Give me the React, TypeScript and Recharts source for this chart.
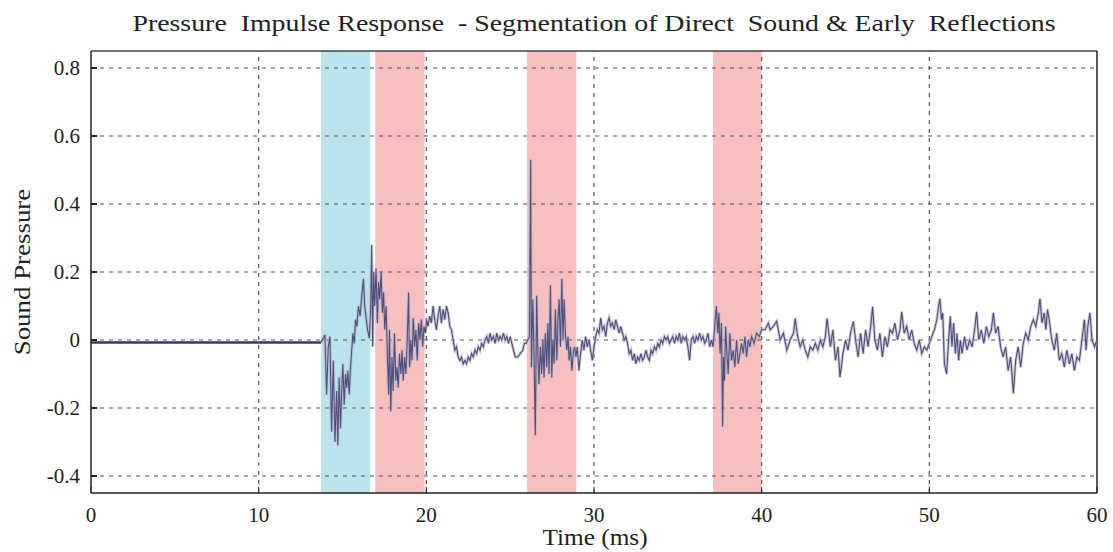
import React from "react";
import {
  LineChart,
  Line,
  XAxis,
  YAxis,
  ReferenceArea,
  ReferenceLine,
} from "recharts";

// ---- data ----
const xTicks = [0, 10, 20, 30, 40, 50, 60];
const yTicks = [-0.4, -0.2, 0, 0.2, 0.4, 0.6, 0.8];

// segmentation bands (ms)
const directSound = [13.72, 16.65];
const earlyReflections = [
  [16.95, 19.9],
  [26.0, 28.95],
  [37.1, 40.0],
];

// pre-arrival (silent) part
const silentTimes = [0, 13.72];
const silentValues = [-0.007, -0.007];

// impulse response samples
const timeMs = [
  13.72, 13.8, 13.95, 14.05, 14.15, 14.25, 14.35, 14.45, 14.55, 14.65, 14.72, 14.8, 14.88, 14.95,
  15.02, 15.1, 15.18, 15.25, 15.32, 15.4, 15.48, 15.55, 15.62, 15.7, 15.78, 15.86, 15.95, 16.05,
  16.15, 16.25, 16.32, 16.42, 16.5, 16.6, 16.68, 16.74, 16.8, 16.86, 16.92, 17.0, 17.08, 17.15,
  17.22, 17.3, 17.38, 17.45, 17.52, 17.6, 17.68, 17.75, 17.8, 17.88, 17.95, 18.02, 18.1, 18.18,
  18.25, 18.32, 18.4, 18.48, 18.55, 18.62, 18.7, 18.78, 18.86, 18.94, 19.0, 19.08, 19.15, 19.22,
  19.3, 19.38, 19.46, 19.54, 19.62, 19.7, 19.78, 19.86, 19.94, 20.02, 20.1, 20.2, 20.3, 20.4,
  20.5, 20.6, 20.7, 20.8, 20.9, 21.0, 21.1, 21.2, 21.3, 21.4, 21.5, 21.6, 21.7, 21.8, 21.9, 22.0,
  22.1, 22.2, 22.3, 22.4, 22.5, 22.6, 22.7, 22.8, 22.9, 23.0, 23.1, 23.2, 23.3, 23.4, 23.5, 23.6,
  23.7, 23.8, 23.9, 24.0, 24.1, 24.2, 24.3, 24.4, 24.5, 24.6, 24.7, 24.8, 24.9, 25.0, 25.1, 25.2,
  25.3, 25.45, 25.6, 25.75, 25.85, 25.95, 26.05, 26.15, 26.22, 26.27, 26.35, 26.42, 26.5, 26.58,
  26.65, 26.72, 26.8, 26.88, 26.95, 27.02, 27.1, 27.18, 27.25, 27.32, 27.4, 27.48, 27.55, 27.62,
  27.7, 27.78, 27.85, 27.92, 28.0, 28.08, 28.15, 28.22, 28.3, 28.38, 28.45, 28.52, 28.6, 28.68,
  28.76, 28.84, 28.92, 29.0, 29.1, 29.2, 29.3, 29.4, 29.5, 29.6, 29.7, 29.8, 29.9, 30.0, 30.1,
  30.2, 30.3, 30.4, 30.5, 30.6, 30.7, 30.8, 30.9, 31.0, 31.1, 31.2, 31.3, 31.4, 31.5, 31.6, 31.7,
  31.8, 31.9, 32.0, 32.1, 32.2, 32.3, 32.4, 32.5, 32.6, 32.7, 32.8, 32.9, 33.0, 33.1, 33.2, 33.3,
  33.4, 33.5, 33.6, 33.7, 33.8, 33.9, 34.0, 34.1, 34.2, 34.3, 34.4, 34.5, 34.6, 34.7, 34.8, 34.9,
  35.0, 35.1, 35.2, 35.3, 35.4, 35.5, 35.6, 35.7, 35.8, 35.9, 36.0, 36.1, 36.2, 36.3, 36.4, 36.5,
  36.6, 36.7, 36.8, 36.9, 37.0, 37.1, 37.2, 37.3, 37.38, 37.45, 37.52, 37.6, 37.67, 37.72, 37.78,
  37.85, 37.92, 38.0, 38.1, 38.2, 38.3, 38.4, 38.5, 38.6, 38.7, 38.8, 38.9, 39.0, 39.1, 39.2, 39.3,
  39.4, 39.55, 39.7, 39.85, 40.0, 40.2, 40.4, 40.5, 40.7, 40.9, 41.1, 41.3, 41.5, 41.7, 41.9, 42.0,
  42.15, 42.3, 42.45, 42.6, 42.75, 42.9, 43.05, 43.2, 43.35, 43.5, 43.65, 43.8, 43.9, 44.1, 44.25,
  44.4, 44.55, 44.67, 44.85, 45.0, 45.15, 45.3, 45.47, 45.6, 45.75, 45.9, 46.05, 46.2, 46.35, 46.5,
  46.62, 46.75, 46.9, 47.05, 47.2, 47.35, 47.5, 47.65, 47.8, 47.95, 48.1, 48.25, 48.35, 48.5, 48.65,
  48.8, 48.95, 49.1, 49.25, 49.4, 49.55, 49.7, 49.85, 50.0, 50.15, 50.3, 50.45, 50.55, 50.63, 50.72,
  50.8, 50.9, 51.03, 51.15, 51.25, 51.35, 51.45, 51.55, 51.65, 51.75, 51.85, 51.95, 52.1, 52.25,
  52.4, 52.55, 52.7, 52.82, 52.95, 53.1, 53.25, 53.4, 53.55, 53.7, 53.82, 53.95, 54.1, 54.25, 54.4,
  54.55, 54.7, 54.85, 55.01, 55.15, 55.3, 55.45, 55.6, 55.75, 55.9, 56.05, 56.2, 56.35, 56.5, 56.6,
  56.72, 56.85, 56.95, 57.05, 57.15, 57.3, 57.45, 57.6, 57.75, 57.9, 58.05, 58.2, 58.35, 58.5,
  58.65, 58.8, 58.95, 59.1, 59.25, 59.35, 59.45, 59.58, 59.7, 59.85, 60.0,
];

const pressure = [
  -0.007, 0.0, 0.015, -0.16, -0.02, 0.01, -0.27, -0.06, -0.3, -0.15, -0.31, -0.11, -0.26, -0.15,
  -0.07, -0.19, -0.1, -0.14, -0.09, -0.16, -0.08, -0.03, 0.02, -0.01, 0.06, 0.04, 0.1, 0.07,
  0.13, 0.18, 0.1, 0.06, 0.03, 0.005, 0.09, 0.28, -0.02, 0.2, 0.1, 0.21, 0.05, 0.17,
  0.12, 0.2, 0.08, 0.14, 0.03, 0.1, -0.05, -0.16, 0.03, -0.21, -0.05, -0.15, 0.02, -0.12,
  -0.08, -0.14, -0.04, -0.1, -0.03, -0.12, -0.05, -0.1, 0.0, 0.14, -0.08, 0.0, -0.06, 0.065,
  -0.02, 0.03, -0.06, 0.05, 0.0, 0.06, -0.02, 0.04, 0.02, 0.06, 0.04, 0.07, 0.05, 0.1,
  0.06, 0.03, 0.07, 0.1, 0.05, 0.09, 0.06, 0.1, 0.08, 0.04, 0.03, 0.0, -0.03, -0.02, -0.05, -0.06,
  -0.05, -0.07, -0.06, -0.07, -0.05, -0.06, -0.04, -0.05, -0.03, -0.04, -0.02, -0.03, -0.01, -0.02, 0.0, 0.01,
  -0.01, 0.02, 0.0, 0.01, -0.01, 0.02, 0.0, 0.01, 0.0, 0.02, 0.0, 0.01, -0.01, 0.01, -0.01, -0.03,
  -0.05, -0.05, -0.04, -0.03, -0.01, -0.01, 0.0, 0.01, 0.53, -0.08, 0.12, -0.03, -0.28, 0.13,
  -0.04, -0.13, -0.02, -0.1, 0.0, -0.11, 0.02, -0.08, 0.05, -0.1, 0.16, -0.11, 0.0, -0.07,
  0.09, -0.06, 0.06, 0.12, -0.02, 0.18, 0.0, 0.12, 0.01, -0.03, 0.01, -0.06, -0.02, -0.09,
  -0.04, -0.02, -0.05, -0.02, -0.09, -0.04, 0.0, -0.03, 0.01, -0.02, 0.0, -0.03, -0.06, -0.02, 0.01,
  0.03, 0.02, 0.065, 0.03, 0.04, 0.01, 0.05, 0.065, 0.04, 0.05, 0.03, 0.06, 0.04, 0.02, 0.04, 0.02,
  0.0, 0.01, -0.01, -0.04, -0.03, -0.06, -0.04, -0.07, -0.05, -0.06, -0.04, -0.06, -0.05, -0.03, -0.05, -0.06,
  -0.03, -0.04, -0.02, -0.03, -0.01, -0.02, 0.0, -0.01, 0.01, 0.0, 0.01, -0.01, 0.0, 0.01, -0.01, 0.01,
  0.0, 0.02, -0.01, 0.01, 0.0, 0.01, -0.02, -0.06, 0.0, 0.01, -0.01, 0.01, 0.0, 0.02, 0.0, 0.01,
  -0.01, 0.0, 0.02, -0.02, 0.0, -0.02, 0.04, 0.1, 0.02, 0.08, -0.04, 0.05, -0.255, -0.05, -0.12,
  0.04, -0.03, -0.1, 0.02, -0.06, -0.03, -0.08, 0.0, -0.07, -0.04, -0.01, -0.04, 0.01, -0.05, 0.0, -0.02,
  0.01, -0.01, 0.02, 0.01, 0.03, 0.03, 0.05, 0.03, 0.04, 0.055, 0.0, 0.02, -0.03, 0.0, 0.02, 0.064,
  0.01, -0.02, 0.0, -0.03, -0.05, -0.02, -0.03, -0.01, -0.03, 0.0, -0.02, 0.01, 0.064, -0.02, 0.03,
  -0.06, -0.02, -0.11, -0.04, 0.0, -0.03, 0.02, 0.055, 0.0, -0.05, 0.02, -0.04, 0.03, -0.02, 0.04,
  0.098, 0.0, -0.03, 0.02, -0.05, 0.01, -0.02, 0.03, 0.02, 0.05, 0.0, 0.03, 0.083, 0.02, 0.04,
  0.0, 0.03, -0.01, -0.03, 0.0, -0.04, -0.02, -0.03, -0.01, 0.01, 0.03, 0.06, 0.1, 0.122, 0.06,
  0.08, -0.07, -0.1, 0.0, 0.07, -0.02, 0.05, -0.04, 0.02, -0.06, 0.0, -0.04, 0.01, -0.03,
  0.0, -0.02, 0.03, 0.083, 0.0, 0.03, -0.01, 0.04, 0.01, 0.03, 0.08, 0.02, 0.04, -0.02, -0.05,
  -0.02, -0.09, -0.05, -0.157, -0.06, -0.02, -0.08, -0.01, 0.02, 0.0, 0.04, 0.06, 0.04, 0.08, 0.122,
  0.05, 0.08, 0.03, 0.09, 0.06, 0.0, -0.03, 0.02, -0.06, -0.04, -0.08, -0.03, -0.07, -0.04,
  -0.09, -0.05, -0.06, 0.0, 0.06, -0.03, 0.04, 0.08, 0.0, -0.02, 0.0,
];

const titleText = "Pressure  Impulse Response  - Segmentation of Direct  Sound & Early  Reflections";
const xLabel = "Time (ms)";
const yLabel = "Sound Pressure";

const signalData = timeMs.map((t, i) => ({ t, p: pressure[i] }));
const silentData = silentTimes.map((t, i) => ({ t, p: silentValues[i] }));

const FONT = '"Liberation Serif", "DejaVu Serif", serif';
const TEXT = "#222";

export default function App() {
  return (
    <div style={{ position: "absolute", left: 0, top: 0, width: 1113, height: 552, background: "#fff", overflow: "hidden" }}>
      <LineChart
        width={1113}
        height={552}
        data={signalData}
        margin={{ top: 51, right: 16, bottom: 29, left: 31 }}
      >
        <XAxis
          dataKey="t"
          type="number"
          domain={[0, 60]}
          ticks={xTicks}
          allowDataOverflow
          height={30}
          tickSize={-6}
          tickMargin={20}
          tick={{ fontFamily: FONT, fontSize: 21, fill: TEXT }}
          stroke="#222"
          axisLine={{ stroke: "#222", strokeWidth: 1.5 }}
          tickLine={{ stroke: "#222" }}
        />
        <YAxis
          type="number"
          domain={[-0.45, 0.85]}
          ticks={yTicks}
          allowDataOverflow
          width={60}
          tickSize={-6}
          tickMargin={17}
          tickFormatter={(v: number) => (v === 0 ? "0" : v.toFixed(1))}
          tick={{ fontFamily: FONT, fontSize: 21, fill: TEXT }}
          axisLine={{ stroke: "#222", strokeWidth: 1.5 }}
          tickLine={{ stroke: "#222", strokeWidth: 2 }}
        />
        <ReferenceArea
          x1={directSound[0]}
          x2={directSound[1]}
          y1={-0.45}
          y2={0.85}
          fill="#bae3ec"
          fillOpacity={1}
          stroke="none"
        />
        {earlyReflections.map(([a, b], i) => (
          <ReferenceArea
            key={"r" + i}
            x1={a}
            x2={b}
            y1={-0.45}
            y2={0.85}
            fill="#f7bfbf"
            fillOpacity={1}
            stroke="none"
          />
        ))}
        {xTicks.slice(1, -1).map((x) => (
          <ReferenceLine key={"vx" + x} x={x} stroke="#555" strokeDasharray="4 5" strokeWidth={1.2} />
        ))}
        {yTicks.map((y) => (
          <ReferenceLine key={"hy" + y} y={y} stroke="#555" strokeDasharray="4 5" strokeWidth={1.2} />
        ))}
        <ReferenceLine y={0.85} stroke="#444" strokeWidth={1.5} />
        <ReferenceLine x={60} stroke="#222" strokeWidth={1.5} />
        <Line
          data={silentData}
          dataKey="p"
          type="linear"
          stroke="#34347e"
          strokeWidth={2.5}
          dot={false}
          isAnimationActive={false}
        />
        <Line
          dataKey="p"
          type="linear"
          stroke="#b4b4c4"
          strokeWidth={3}
          strokeOpacity={0.7}
          dot={false}
          isAnimationActive={false}
        />
        <Line
          dataKey="p"
          type="linear"
          stroke="#4f4f7e"
          strokeWidth={1.1}
          dot={false}
          isAnimationActive={false}
        />
      </LineChart>
      <div
        style={{
          position: "absolute",
          left: 0,
          width: 1188,
          top: 9,
          textAlign: "center",
          fontFamily: FONT,
          fontSize: 24,
          lineHeight: "28px",
          color: TEXT,
          whiteSpace: "pre",
          transform: "scaleX(1.16)",
          transformOrigin: "594px 0",
        }}
      >
        {titleText}
      </div>
      <div
        style={{
          position: "absolute",
          left: 395,
          width: 400,
          top: 525,
          textAlign: "center",
          fontFamily: FONT,
          fontSize: 23,
          lineHeight: "26px",
          color: TEXT,
          whiteSpace: "pre",
          transform: "scaleX(1.1)",
          transformOrigin: "200px 0",
        }}
      >
        {xLabel}
      </div>
      <div
        style={{
          position: "absolute",
          left: 22 - 150,
          width: 300,
          top: 272 - 14,
          textAlign: "center",
          fontFamily: FONT,
          fontSize: 24,
          lineHeight: "28px",
          color: TEXT,
          whiteSpace: "pre",
          transform: "rotate(-90deg) scaleX(1.12)",
          transformOrigin: "150px 14px",
        }}
      >
        {yLabel}
      </div>
    </div>
  );
}
